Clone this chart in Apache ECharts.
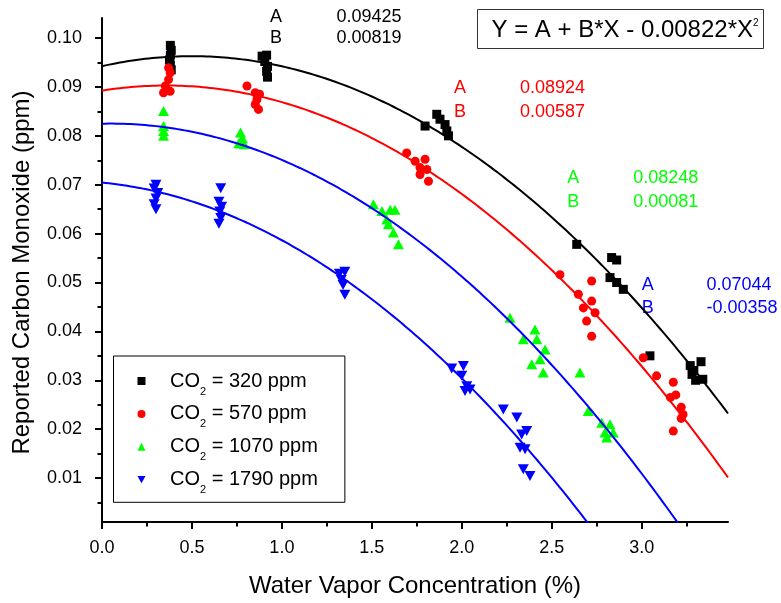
<!DOCTYPE html>
<html>
<head>
<meta charset="utf-8">
<script src="https://cdn.jsdelivr.net/npm/echarts@6/dist/echarts.min.js"></script>
<style>
  html, body { margin: 0; padding: 0; background: #ffffff; }
  #chart { width: 781px; height: 603px; }
</style>
</head>
<body>
<div id="chart"></div>
<script>
// Axis ticks
const xTicks = [0.0, 0.5, 1.0, 1.5, 2.0, 2.5, 3.0];
const xMinorTicks = [0.25, 0.75, 1.25, 1.75, 2.25, 2.75, 3.25];
const yTicks = [0.01, 0.02, 0.03, 0.04, 0.05, 0.06, 0.07, 0.08, 0.09, 0.10];
const yMinorTicks = [0.005, 0.015, 0.025, 0.035, 0.045, 0.055, 0.065, 0.075, 0.085, 0.095];

// CO2 levels (ppm)
const co2Levels = ['320', '570', '1070', '1790'];

// Measurements: [water vapor %, reported CO ppm]
const co2_320 = [
  [0.38, 0.0985], [0.385, 0.0975], [0.38, 0.0965], [0.375, 0.0955], [0.38, 0.0945], [0.385, 0.0935],
  [0.89, 0.0963], [0.915, 0.0965], [0.905, 0.0952], [0.92, 0.0942], [0.915, 0.0932], [0.92, 0.0920],
  [1.796, 0.0820], [1.861, 0.0844], [1.879, 0.0834], [1.907, 0.0823], [1.917, 0.0810], [1.926, 0.0800],
  [2.639, 0.0578], [2.833, 0.0551], [2.861, 0.0546], [2.824, 0.0510], [2.861, 0.0500], [2.898, 0.0486],
  [3.046, 0.0350], [3.27, 0.0330], [3.33, 0.0338], [3.29, 0.0320], [3.30, 0.0300], [3.34, 0.0302], [3.28, 0.0312]
];
const co2_570 = [
  [0.37, 0.0939], [0.379, 0.0929], [0.37, 0.0915], [0.352, 0.0902], [0.342, 0.0888], [0.379, 0.0891],
  [0.806, 0.0902], [0.852, 0.0888], [0.876, 0.0885], [0.861, 0.0874], [0.852, 0.0864], [0.87, 0.0854],
  [1.694, 0.0765], [1.741, 0.0748], [1.796, 0.0752], [1.768, 0.0735], [1.806, 0.0731], [1.768, 0.0721], [1.815, 0.0707],
  [2.546, 0.0516], [2.722, 0.0503], [2.648, 0.0476], [2.722, 0.0462], [2.676, 0.0448], [2.741, 0.0438], [2.694, 0.0421], [2.722, 0.0390],
  [3.009, 0.0346], [3.083, 0.0309], [3.176, 0.0296], [3.16, 0.0265], [3.19, 0.0270], [3.22, 0.0245], [3.23, 0.0230], [3.22, 0.0222], [3.176, 0.0196]
];
const co2_1070 = [
  [0.342, 0.0851], [0.342, 0.0820], [0.342, 0.0810], [0.342, 0.0800],
  [0.77, 0.0807], [0.78, 0.0795], [0.76, 0.0785], [0.79, 0.0783],
  [1.509, 0.0660], [1.556, 0.0646], [1.602, 0.0649], [1.629, 0.0649], [1.583, 0.0629], [1.592, 0.0619], [1.62, 0.0602], [1.648, 0.0578],
  [2.268, 0.0428], [2.407, 0.0404], [2.342, 0.0384], [2.417, 0.0384], [2.463, 0.0363], [2.435, 0.0343], [2.389, 0.0333], [2.453, 0.0316],
  [2.657, 0.0316], [2.703, 0.0237], [2.778, 0.0213], [2.824, 0.0210], [2.796, 0.0193], [2.842, 0.0193], [2.806, 0.0183]
];
const co2_1790 = [
  [0.30, 0.0700], [0.29, 0.0692], [0.31, 0.0683], [0.30, 0.0672], [0.29, 0.0660], [0.30, 0.0650],
  [0.66, 0.0693], [0.65, 0.0665], [0.665, 0.0655], [0.655, 0.0645], [0.66, 0.0632], [0.65, 0.0620],
  [1.32, 0.0518], [1.35, 0.0522], [1.33, 0.0505], [1.34, 0.0495], [1.35, 0.0475],
  [1.944, 0.0324], [2.009, 0.0329], [2.0, 0.0309], [2.028, 0.0288], [2.046, 0.0281], [2.018, 0.0278],
  [2.231, 0.0240], [2.306, 0.0224], [2.361, 0.0196], [2.333, 0.0189], [2.324, 0.0162], [2.352, 0.0159], [2.342, 0.0118], [2.379, 0.0104]
];

// Quadratic fit Y = A + B*X + C*X^2 (C shared by all four groups)
const fitA = [0.09425, 0.08924, 0.08248, 0.07044];
const fitB = [0.00819, 0.00587, 0.00081, -0.00358];
const fitC = -0.00822;

const FONT = 'Liberation Sans, Arial, Helvetica, sans-serif';
const X_MIN = 0, X_MAX = 3.48;
const Y_MIN = 0.00101, Y_MAX = 0.1041;

const seriesData = [co2_320, co2_570, co2_1070, co2_1790];
const markerColors = ['#000000', '#ff0000', '#00ff00', '#0000ff'];
const fitColors = ['#000000', '#ff0000', '#0000ff', '#0000ff'];
const symbols = ['rect', 'circle', 'triangle', 'triangle'];
const symbolSizes = [9, 9, [11, 10], [11, 10]];
const symbolRotates = [0, 0, 0, 180];
const legendIcons = ['rect', 'circle', 'triangle', 'path://M0,0 L10,0 L5,9 Z'];

const seriesNames = co2Levels.map(v => 'CO\u2082 = ' + v + ' ppm');

// Sample positions along X for the fitted curves
const fitX = [];
for (let i = 0; i <= 174; i++) fitX.push(+(i * 0.02).toFixed(2));

const scatterSeries = seriesData.map((d, i) => ({
  name: seriesNames[i],
  type: 'scatter',
  xAxisIndex: 0,
  yAxisIndex: 0,
  data: d,
  symbol: symbols[i],
  symbolSize: symbolSizes[i],
  symbolRotate: symbolRotates[i],
  itemStyle: { color: markerColors[i], opacity: 1 },
  z: 2
}));

const fitSeries = fitA.map((a, i) => ({
  name: 'fit ' + co2Levels[i],
  type: 'line',
  xAxisIndex: 0,
  yAxisIndex: 0,
  data: fitX.map(x => [x, a + fitB[i] * x + fitC * x * x]),
  showSymbol: false,
  symbol: 'none',
  clip: true,
  silent: true,
  lineStyle: { color: fitColors[i], width: 2 },
  z: 3
}));

// Fit parameter annotations
const annotLayout = [
  { ax: 270, vx: 336.5, ay: 16.7, by: 38.3 },
  { ax: 454, vx: 520, ay: 88.3, by: 111.7 },
  { ax: 567.3, vx: 633.3, ay: 178.3, by: 201.7 },
  { ax: 641.7, vx: 706.5, ay: 285, by: 308.3 }
];
const graphics = [];
fitA.forEach((a, i) => {
  const L = annotLayout[i];
  const col = markerColors[i];
  const items = [
    [L.ax, L.ay, 'A'], [L.vx, L.ay, a.toFixed(5)],
    [L.ax, L.by, 'B'], [L.vx, L.by, fitB[i].toFixed(5)]
  ];
  items.forEach(t => graphics.push({
    type: 'text', x: t[0], y: t[1], silent: true,
    style: { text: t[2], fill: col, font: '18px ' + FONT,
      textAlign: 'left', textVerticalAlign: 'middle', align: 'left', verticalAlign: 'middle' }
  }));
});
// Equation box
graphics.push({
  type: 'rect', silent: true,
  shape: { x: 477.5, y: 9.5, width: 286, height: 39 },
  style: { fill: '#ffffff', stroke: '#333333', lineWidth: 1 }
});
graphics.push({
  type: 'text', x: 491.5, y: 30, silent: true, z: 10,
  style: {
    text: '{m|Y = A + B*X - ' + Math.abs(fitC).toFixed(5) + '*X}{p|2}',
    fill: '#000', textAlign: 'left', textVerticalAlign: 'middle', align: 'left', verticalAlign: 'middle',
    rich: {
      m: { fontSize: 24, fontFamily: FONT, lineHeight: 24, fill: '#000' },
      p: { fontSize: 10, fontFamily: FONT, lineHeight: 10, verticalAlign: 'top', fill: '#000' }
    }
  }
});
// Y axis title
graphics.push({
  type: 'text', x: 22.5, y: 272.5, rotation: Math.PI / 2, silent: true,
  style: { text: 'Reported Carbon Monoxide (ppm)', fill: '#000', font: '24px ' + FONT,
    textAlign: 'center', textVerticalAlign: 'middle', align: 'center', verticalAlign: 'middle' }
});

const majorTickStyle = { color: '#000', width: 2 };
const minorTickStyle = { color: '#000', width: 2 };

const option = {
  animation: false,
  backgroundColor: '#ffffff',
  textStyle: { fontFamily: FONT },
  grid: { left: 102, top: 18, right: 53, bottom: 80, containLabel: false },
  xAxis: [
    {
      type: 'value', position: 'bottom', min: X_MIN, max: X_MAX,
      name: 'Water Vapor Concentration (%)', nameLocation: 'middle', nameGap: 52,
      nameTextStyle: { fontSize: 24, color: '#000', fontFamily: FONT },
      axisLine: { show: true, onZero: false, lineStyle: { color: '#000', width: 2 } },
      axisTick: { show: true, length: 7, customValues: xTicks, lineStyle: majorTickStyle },
      axisLabel: { show: true, customValues: xTicks, margin: 17, fontSize: 18, color: '#000', fontFamily: FONT,
        formatter: v => v.toFixed(1) },
      splitLine: { show: false }
    },
    {
      type: 'value', position: 'bottom', min: X_MIN, max: X_MAX,
      axisLine: { show: false },
      axisTick: { show: true, length: 4.5, customValues: xMinorTicks, lineStyle: minorTickStyle },
      axisLabel: { show: false },
      splitLine: { show: false }
    }
  ],
  yAxis: [
    {
      type: 'value', position: 'left', min: Y_MIN, max: Y_MAX,
      axisLine: { show: true, onZero: false, lineStyle: { color: '#000', width: 2 } },
      axisTick: { show: true, length: 7, customValues: yTicks, lineStyle: majorTickStyle },
      axisLabel: { show: true, customValues: yTicks, margin: 20, fontSize: 18, color: '#000', fontFamily: FONT,
        formatter: v => v.toFixed(2) },
      splitLine: { show: false }
    },
    {
      type: 'value', position: 'left', min: Y_MIN, max: Y_MAX,
      axisLine: { show: false },
      axisTick: { show: true, length: 4.5, customValues: yMinorTicks, lineStyle: minorTickStyle },
      axisLabel: { show: false },
      splitLine: { show: false }
    }
  ],
  legend: {
    data: seriesNames.map((n, i) => ({ name: n, icon: legendIcons[i] })),
    orient: 'vertical',
    left: 113.5,
    top: 356,
    padding: [15, 27, 6.6, 24],
    itemGap: 6.9,
    itemWidth: 8,
    itemHeight: 8,
    borderColor: '#000',
    borderWidth: 1,
    backgroundColor: '#ffffff',
    selectedMode: false,
    formatter: name => '{f|CO}{s|2}{a| = ' + name.split(' = ')[1] + '}',
    textStyle: {
      color: '#000',
      fontFamily: FONT,
      rich: {
        f: { fontSize: 20, lineHeight: 32, fontFamily: FONT, padding: [0, 0, 0, 19.5] },
        s: { fontSize: 11, lineHeight: 11, fontFamily: FONT, verticalAlign: 'bottom' },
        a: { fontSize: 20, lineHeight: 32, fontFamily: FONT }
      }
    }
  },
  graphic: graphics,
  series: scatterSeries.concat(fitSeries)
};

const chart = echarts.init(document.getElementById('chart'), null, { renderer: 'canvas' });
chart.setOption(option);
</script>
</body>
</html>
